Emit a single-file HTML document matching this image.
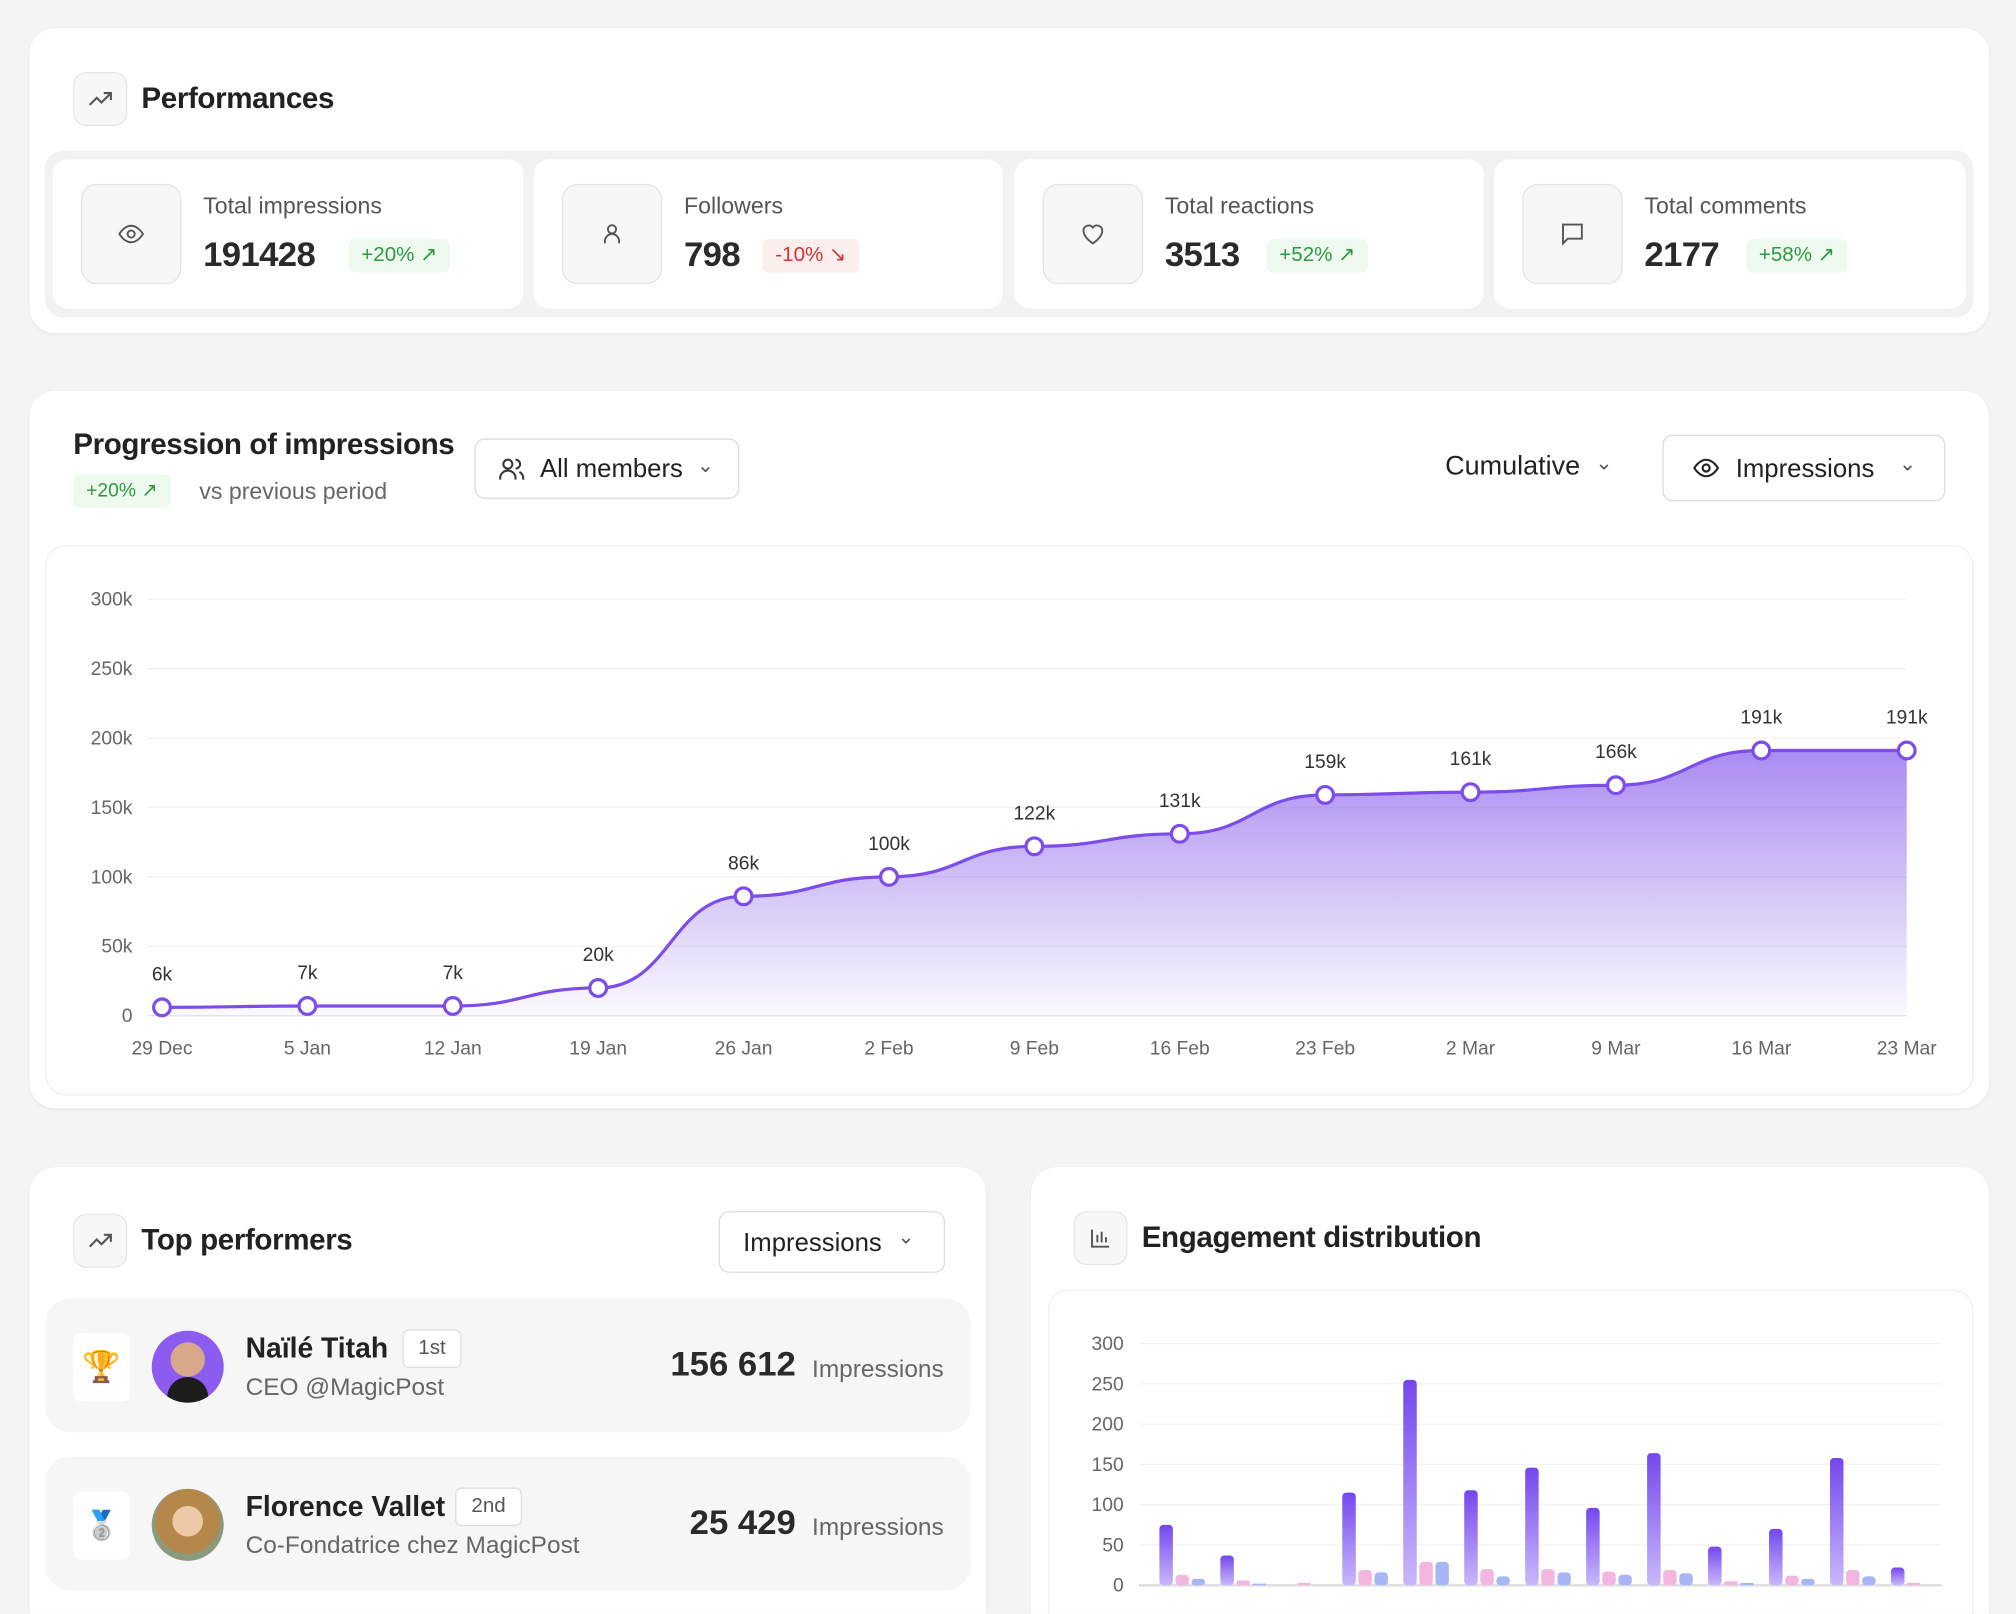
<!DOCTYPE html>
<html><head><meta charset="utf-8">
<style>
html,body{margin:0;padding:0;background:#f4f4f4;overflow:hidden;width:2016px;height:1614px}
#stage{position:absolute;left:0;top:0;width:1568px;height:1255px;overflow:hidden;transform:scale(1.285714);transform-origin:0 0;font-family:"Liberation Sans",sans-serif;color:#222}
.abs{position:absolute}
.card{position:absolute;background:#fff;border-radius:20px;box-shadow:0 1px 3px rgba(0,0,0,0.05)}
.ibox{position:absolute;background:#f7f7f7;border:1px solid #e6e6e6;border-radius:10px;display:flex;align-items:center;justify-content:center}
.title{position:absolute;font-weight:bold;font-size:23px;color:#222;letter-spacing:-0.3px}
.stat{position:absolute;top:124px;height:116px;background:#fff;border-radius:12px}
.stat .ib{position:absolute;left:22px;top:19px;width:76px;height:76px;background:#f7f7f7;border:1px solid #e4e4e4;border-radius:12px;display:flex;align-items:center;justify-content:center}
.stat .lab{position:absolute;left:117px;top:26px;font-size:18px;color:#555}
.stat .num{position:absolute;left:117px;top:59px;font-size:27px;font-weight:bold;color:#2a2a2a;letter-spacing:-0.5px}
.badge{position:absolute;height:26px;line-height:26px;border-radius:5px;font-size:16px;padding:0 10px}
.up{background:#eefaf0;color:#2e9a40}.down{background:#fdeeee;color:#d23434}
.dd{position:absolute;background:#fff;border:1px solid #dcdcdc;border-radius:8px;font-size:20px;color:#222}
.row{position:absolute;left:35px;width:720px;height:104px;background:#f6f6f6;border-radius:20px}
</style></head><body>
<div id="stage">
<div class="card" style="left:23px;top:22px;width:1524px;height:237px"></div>
<div class="ibox" style="left:57px;top:56px;width:40px;height:40px"><svg width="22" height="22" viewBox="0 0 24 24" fill="none" stroke="#555" stroke-width="1.8"><path d="M3 17l6-6 4 4 8-8M15 7h6v6"/></svg></div>
<div class="title" style="left:110px;top:63px">Performances</div>
<div class="abs" style="left:35px;top:117px;width:1500px;height:130px;background:#f2f2f2;border-radius:14px"></div>

<div class="stat" style="left:41px;width:366px">
 <div class="ib"><svg width="22" height="22" viewBox="0 0 24 24" fill="none" stroke="#555" stroke-width="1.6"><path d="M2 12s4-7 10-7 10 7 10 7-4 7-10 7S2 12 2 12z"/><circle cx="12" cy="12" r="3"/></svg></div>
 <div class="lab">Total impressions</div><div class="num">191428</div>
 <div class="badge up" style="left:230px;top:62px">+20% ↗</div></div>
<div class="stat" style="left:415px;width:365px">
 <div class="ib"><svg width="22" height="22" viewBox="0 0 24 24" fill="none" stroke="#555" stroke-width="1.6"><circle cx="12" cy="8" r="3.5"/><path d="M6 20v-2a6 6 0 0 1 12 0v2"/></svg></div>
 <div class="lab">Followers</div><div class="num">798</div>
 <div class="badge down" style="left:178px;top:62px">-10% ↘</div></div>
<div class="stat" style="left:789px;width:365px">
 <div class="ib"><svg width="22" height="22" viewBox="0 0 24 24" fill="none" stroke="#555" stroke-width="1.6"><path d="M12 20s-8-5-8-11a4.5 4.5 0 0 1 8-2.5A4.5 4.5 0 0 1 20 9c0 6-8 11-8 11z"/></svg></div>
 <div class="lab">Total reactions</div><div class="num">3513</div>
 <div class="badge up" style="left:196px;top:62px">+52% ↗</div></div>
<div class="stat" style="left:1162px;width:367px">
 <div class="ib"><svg width="22" height="22" viewBox="0 0 24 24" fill="none" stroke="#555" stroke-width="1.6"><path d="M4 4h16v12H8l-4 4z"/></svg></div>
 <div class="lab">Total comments</div><div class="num">2177</div>
 <div class="badge up" style="left:196px;top:62px">+58% ↗</div></div>

<div class="card" style="left:23px;top:304px;width:1524px;height:558px"></div>
<div class="title" style="left:57px;top:332px">Progression of impressions</div>
<div class="badge up" style="left:57px;top:369px;font-size:15px">+20% ↗</div>
<div class="abs" style="left:155px;top:372px;font-size:18px;color:#666">vs previous period</div>
<div class="dd" style="left:369px;top:341px;width:204px;height:45px">
 <svg class="abs" style="left:16px;top:11px" width="24" height="24" viewBox="0 0 24 24" fill="none" stroke="#333" stroke-width="1.6"><circle cx="9" cy="8" r="3.5"/><path d="M3 20v-1a6 6 0 0 1 12 0v1M15 4.5a3.5 3.5 0 0 1 0 7M18 14a6 6 0 0 1 3 5v1"/></svg>
 <span class="abs" style="left:50px;top:12px">All members</span><span class="abs" style="left:172px;top:10px;font-size:16px;color:#555">⌄</span></div>
<div class="abs" style="left:1124px;top:351px;font-size:21px;color:#222">Cumulative <span style="font-size:16px;color:#555;margin-left:6px;position:relative;top:-4px">⌄</span></div>
<div class="dd" style="left:1293px;top:338px;width:218px;height:50px">
 <svg class="abs" style="left:22px;top:14px" width="22" height="22" viewBox="0 0 24 24" fill="none" stroke="#222" stroke-width="1.8"><path d="M2 12s4-7 10-7 10 7 10 7-4 7-10 7S2 12 2 12z"/><circle cx="12" cy="12" r="3"/></svg>
 <span class="abs" style="left:56px;top:15px">Impressions</span><span class="abs" style="left:183px;top:12px;font-size:16px;color:#555">⌄</span></div>
<div class="abs" style="left:35px;top:424px;width:1498px;height:426px;border:1px solid #efefef;border-radius:16px"></div>
<svg id="line" class="abs" style="left:0;top:0" width="1568" height="900"></svg>

<div class="card" style="left:23px;top:908px;width:744px;height:347px;border-radius:20px 20px 0 0"></div>
<div class="ibox" style="left:57px;top:944px;width:40px;height:40px"><svg width="22" height="22" viewBox="0 0 24 24" fill="none" stroke="#555" stroke-width="1.8"><path d="M3 17l6-6 4 4 8-8M15 7h6v6"/></svg></div>
<div class="title" style="left:110px;top:951px">Top performers</div>
<div class="dd" style="left:559px;top:942px;width:174px;height:46px"><span class="abs" style="left:18px;top:13px">Impressions</span><span class="abs" style="left:138px;top:9px;font-size:16px;color:#555">⌄</span></div>

<div class="row" style="top:1010px">
 <div class="abs" style="left:22px;top:27px;width:44px;height:53px;background:#fff;border-radius:6px;text-align:center;line-height:53px;font-size:24px">🏆</div>
 <div class="abs" style="left:83px;top:25px;width:56px;height:56px;border-radius:50%;overflow:hidden;background:radial-gradient(circle at 50% 40%,#d8a88a 0 30%,#8c5cf0 31%)"><div class="abs" style="left:12px;top:36px;width:32px;height:20px;border-radius:16px 16px 0 0;background:#1c1c1c"></div></div>
 <div class="abs" style="left:156px;top:26px;font-size:22px;font-weight:bold;color:#222">Naïlé Titah</div>
 <div class="abs" style="left:278px;top:24px;width:44px;height:28px;border:1px solid #ddd;border-radius:5px;background:#fff;text-align:center;line-height:28px;font-size:16px;color:#555">1st</div>
 <div class="abs" style="left:156px;top:59px;font-size:19px;color:#666">CEO @MagicPost</div>
 <div class="abs" style="right:136px;top:36px;font-size:27px;font-weight:bold;color:#2a2a2a">156 612</div>
 <div class="abs" style="right:21px;top:45px;font-size:19px;color:#666">Impressions</div></div>
<div class="row" style="top:1133px">
 <div class="abs" style="left:22px;top:27px;width:44px;height:53px;background:#fff;border-radius:6px;text-align:center;line-height:53px;font-size:22px">🥈</div>
 <div class="abs" style="left:83px;top:25px;width:56px;height:56px;border-radius:50%;background:radial-gradient(circle at 50% 45%,#eec9a8 0 28%,#b5874a 29% 60%,#8a9a7a 61%)"></div>
 <div class="abs" style="left:156px;top:26px;font-size:22px;font-weight:bold;color:#222">Florence Vallet</div>
 <div class="abs" style="left:319px;top:24px;width:50px;height:28px;border:1px solid #ddd;border-radius:5px;background:#fff;text-align:center;line-height:28px;font-size:16px;color:#555">2nd</div>
 <div class="abs" style="left:156px;top:59px;font-size:19px;color:#666">Co-Fondatrice chez MagicPost</div>
 <div class="abs" style="right:136px;top:36px;font-size:27px;font-weight:bold;color:#2a2a2a">25 429</div>
 <div class="abs" style="right:21px;top:45px;font-size:19px;color:#666">Impressions</div></div>

<div class="card" style="left:802px;top:908px;width:745px;height:347px;border-radius:20px 20px 0 0"></div>
<div class="ibox" style="left:835px;top:942px;width:40px;height:40px"><svg width="20" height="20" viewBox="0 0 24 24" fill="none" stroke="#555" stroke-width="1.8"><path d="M4 4v16h16M9 16V9M13 16V6M17 16v-5"/></svg></div>
<div class="title" style="left:888px;top:949px">Engagement distribution</div>
<div class="abs" style="left:815px;top:1003px;width:718px;height:251px;border:1px solid #efefef;border-bottom:none;border-radius:16px 16px 0 0"></div>
<svg id="bars" class="abs" style="left:0;top:0" width="1568" height="1255"></svg>
</div>

<script>
var lineCategories = ["29 Dec","5 Jan","12 Jan","19 Jan","26 Jan","2 Feb","9 Feb","16 Feb","23 Feb","2 Mar","9 Mar","16 Mar","23 Mar"];
var lineValues = [6,7,7,20,86,100,122,131,159,161,166,191,191];
var lineTicks = [0,50,100,150,200,250,300];
var barPurple = [75,37,0,115,255,118,146,96,164,48,70,158,22];
var barPink = [13,6,3,19,29,20,20,17,19,5,12,19,3];
var barBlue = [8,2,0,16,29,11,16,13,15,3,8,11,0];
var barTicks = [0,50,100,150,200,250,300];

var NS="http://www.w3.org/2000/svg";
function mk(parent,tag,attrs){var e=document.createElementNS(NS,tag);for(var k in attrs)e.setAttribute(k,attrs[k]);parent.appendChild(e);return e;}

(function(){
 var svg=document.getElementById('line');
 var x0=126,x1=1483,y0=790,y1=466,maxV=300;
 function X(i){return x0+(x1-x0)*i/(lineCategories.length-1);}
 function Y(v){return y0-(y0-y1)*v/maxV;}
 var defs=mk(svg,'defs',{});
 var g=mk(defs,'linearGradient',{id:'lf',x1:0,y1:0,x2:0,y2:1});
 mk(g,'stop',{offset:'0','stop-color':'#7c4dea','stop-opacity':'0.65'});
 mk(g,'stop',{offset:'1','stop-color':'#7c4dea','stop-opacity':'0.03'});
 lineTicks.forEach(function(t){
  var l=mk(svg,'line',{x1:115,x2:1483,y1:Y(t),y2:Y(t),stroke:t===0?'#e2e2e2':'#f0f0f0','stroke-width':1});
  
  
  var tx=mk(svg,'text',{x:103,y:Y(t)+5,'text-anchor':'end','font-size':15,fill:'#666','font-family':'Liberation Sans'});
  tx.textContent=t===0?'0':t+'k';
  
  
 });
 var d='M'+X(0)+','+Y(lineValues[0]);
 for(var i=1;i<lineValues.length;i++){var xm=(X(i-1)+X(i))/2;d+=' C'+xm+','+Y(lineValues[i-1])+' '+xm+','+Y(lineValues[i])+' '+X(i)+','+Y(lineValues[i]);}
 var area=mk(svg,'path',{d:d+' L'+X(lineValues.length-1)+','+y0+' L'+X(0)+','+y0+' Z',fill:'url(#lf)'});
 
 
 var ln=mk(svg,'path',{d:d,fill:'none',stroke:'#7c4dea','stroke-width':2.5});
 
 
 lineValues.forEach(function(v,i){
  var c=mk(svg,'circle',{cx:X(i),cy:Y(v),r:6.5,fill:'#fff',stroke:'#7c4dea','stroke-width':2.5});
  
  
  var t=mk(svg,'text',{x:X(i),y:Y(v)-21,'text-anchor':'middle','font-size':15,fill:'#333','font-family':'Liberation Sans'});
  t.textContent=v+'k';
  
  
  var xl=mk(svg,'text',{x:X(i),y:820,'text-anchor':'middle','font-size':15,fill:'#666','font-family':'Liberation Sans'});
  xl.textContent=lineCategories[i];
  
  
 });
})();

(function(){
 var svg=document.getElementById('bars');
 var y0=1233,y1=1045,maxV=300,gx0=907,gx1=1476,bw=10.5;
 function Y(v){return y0-(y0-y1)*v/maxV;}
 function GX(i){return gx0+(gx1-gx0)*i/(barPurple.length-1);}
 var defs=mk(svg,'defs',{});
 var g=mk(defs,'linearGradient',{id:'bp',x1:0,y1:0,x2:0,y2:1});
 mk(g,'stop',{offset:'0','stop-color':'#7447ee'});
 mk(g,'stop',{offset:'1','stop-color':'#c9b8fb'});
 barTicks.forEach(function(t){
  var l=mk(svg,'line',{x1:886,x2:1510,y1:Y(t),y2:Y(t),stroke:t===0?'#e0e0e0':'#f2f2f2','stroke-width':t===0?2:1});
  
  
  var tx=mk(svg,'text',{x:874,y:Y(t)+5,'text-anchor':'end','font-size':15,fill:'#666','font-family':'Liberation Sans'});
  tx.textContent=String(t);
  
  
 });
 var series=[[barPurple,'url(#bp)',0,'bar-posts'],[barPink,'#f3b6e0',12.5,'bar-comments'],[barBlue,'#a9b6f5',25,'bar-shares']];
 series.forEach(function(s){
  s[0].forEach(function(v,i){
   if(v<=0)return;
   var h=Y(0)-Y(v);
   var r=mk(svg,'rect',{x:GX(i)+s[2]-bw/2,y:Y(v),width:bw,height:h,rx:Math.min(3,h/2),fill:s[1]});
   
   
  });
 });
})();
</script>
</body></html>
